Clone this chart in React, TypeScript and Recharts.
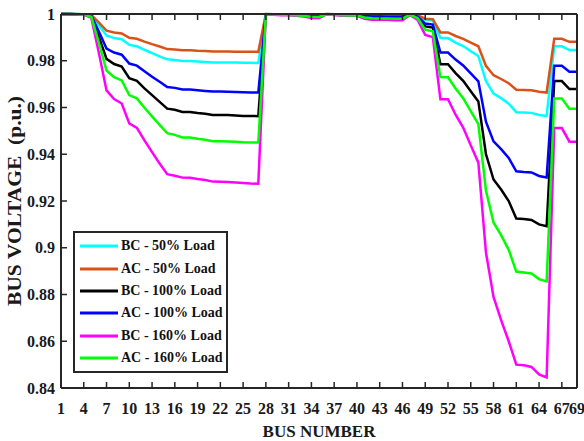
import { LineChart, Line, XAxis, YAxis, Legend } from "recharts";

const buses = [
  1, 2, 3, 4, 5, 6, 7, 8, 9, 10, 11, 12, 13, 14, 15, 16, 17, 18, 19, 20, 21, 22, 23,
  24, 25, 26, 27, 28, 29, 30, 31, 32, 33, 34, 35, 36, 37, 38, 39, 40, 41, 42, 43, 44,
  45, 46, 47, 48, 49, 50, 51, 52, 53, 54, 55, 56, 57, 58, 59, 60, 61, 62, 63, 64, 65,
  66, 67, 68, 69,
];

const bc50 = [
  1.0, 1.0, 1.0, 0.9999, 0.9995, 0.9952, 0.9908, 0.9897, 0.9892, 0.9868, 0.9862, 0.9847,
  0.9833, 0.9819, 0.9806, 0.9803, 0.9799, 0.9799, 0.9797, 0.9795, 0.9793, 0.9793, 0.9792,
  0.9792, 0.9791, 0.9791, 0.979, 1.0, 0.9999, 0.9999, 0.9999, 0.9998, 0.9997, 0.9995,
  0.9995, 1.0, 0.9999, 0.9998, 0.9998, 0.9998, 0.9994, 0.9993, 0.9993, 0.9993, 0.9992,
  0.9992, 0.9999, 0.9993, 0.9975, 0.9972, 0.9897, 0.9897, 0.9878, 0.9863, 0.9841, 0.982,
  0.9713, 0.966, 0.964, 0.9616, 0.958, 0.9579, 0.9577, 0.9568, 0.9564, 0.9862, 0.9862,
  0.9846, 0.9846,
];

const ac50 = [
  1.0, 1.0, 1.0, 0.9999, 0.9996, 0.9963, 0.9929, 0.9921, 0.9917, 0.9898, 0.9894, 0.9882,
  0.9871, 0.9861, 0.985, 0.9848, 0.9845, 0.9845, 0.9843, 0.9842, 0.984, 0.984, 0.984,
  0.9839, 0.9839, 0.9839, 0.9838, 1.0, 0.9999, 0.9999, 0.9999, 0.9999, 0.9998, 0.9996,
  0.9996, 1.0, 0.9999, 0.9998, 0.9998, 0.9998, 0.9996, 0.9995, 0.9994, 0.9994, 0.9994,
  0.9994, 0.9999, 0.9995, 0.998, 0.9978, 0.9921, 0.9921, 0.9906, 0.9894, 0.9878, 0.9862,
  0.9778, 0.9738, 0.9722, 0.9704, 0.9676, 0.9675, 0.9674, 0.9667, 0.9664, 0.9894, 0.9894,
  0.9881, 0.9881,
];

const bc100 = [
  1.0, 1.0, 0.9999, 0.9998, 0.999, 0.9901, 0.9808, 0.9786, 0.9775, 0.9725, 0.9714, 0.9682,
  0.9653, 0.9624, 0.9595, 0.959, 0.9581, 0.9581, 0.9576, 0.9573, 0.9568, 0.9568, 0.9568,
  0.9566, 0.9564, 0.9564, 0.9563, 0.9999, 0.9999, 0.9997, 0.9997, 0.9996, 0.9994, 0.999,
  0.999, 0.9999, 0.9998, 0.9996, 0.9995, 0.9995, 0.9988, 0.9986, 0.9985, 0.9985, 0.9984,
  0.9984, 0.9998, 0.9985, 0.9947, 0.9942, 0.9785, 0.9785, 0.9747, 0.9714, 0.967, 0.9626,
  0.9401, 0.9292, 0.9249, 0.92, 0.9125, 0.9123, 0.9119, 0.91, 0.9092, 0.9713, 0.9713,
  0.9679, 0.9679,
];

const ac100 = [
  1.0, 1.0, 0.9999, 0.9999, 0.9992, 0.9924, 0.9852, 0.9835, 0.9826, 0.9788, 0.9779, 0.9755,
  0.9732, 0.971, 0.9688, 0.9684, 0.9677, 0.9677, 0.9674, 0.9671, 0.9668, 0.9668, 0.9667,
  0.9666, 0.9665, 0.9664, 0.9664, 0.9999, 0.9999, 0.9998, 0.9998, 0.9997, 0.9995, 0.9992,
  0.9992, 0.9999, 0.9998, 0.9997, 0.9996, 0.9996, 0.9991, 0.9989, 0.9989, 0.9988, 0.9988,
  0.9988, 0.9998, 0.9989, 0.9959, 0.9955, 0.9835, 0.9835, 0.9805, 0.978, 0.9746, 0.9712,
  0.9539, 0.9455, 0.9422, 0.9384, 0.9327, 0.9324, 0.9322, 0.9307, 0.9301, 0.9779, 0.9779,
  0.9753, 0.9753,
];

const bc160 = [
  1.0, 0.9999, 0.9999, 0.9997, 0.9983, 0.9832, 0.9673, 0.9636, 0.9617, 0.9532, 0.9513,
  0.9459, 0.9409, 0.936, 0.9315, 0.9308, 0.93, 0.9299, 0.9294, 0.929, 0.9283, 0.9282,
  0.9281, 0.9279, 0.9277, 0.9275, 0.9274, 0.9999, 0.9997, 0.9995, 0.9995, 0.9993, 0.9989,
  0.9983, 0.9982, 0.9999, 0.9996, 0.9993, 0.9992, 0.9992, 0.998, 0.9975, 0.9975, 0.9975,
  0.9973, 0.9973, 0.9996, 0.9975, 0.991, 0.9901, 0.9635, 0.9635, 0.9569, 0.9514, 0.9438,
  0.9364, 0.898, 0.879, 0.869, 0.86, 0.85, 0.8497, 0.849, 0.8458, 0.8445, 0.9512, 0.9512,
  0.9454, 0.9454,
];

const ac160 = [
  1.0, 1.0, 0.9999, 0.9998, 0.9988, 0.9875, 0.9758, 0.973, 0.9716, 0.9653, 0.9639, 0.9599,
  0.9562, 0.9526, 0.949, 0.9483, 0.9472, 0.9472, 0.9466, 0.9462, 0.9456, 0.9456, 0.9455,
  0.9453, 0.9451, 0.945, 0.945, 0.9999, 0.9998, 0.9997, 0.9996, 0.9995, 0.9992, 0.9988,
  0.9987, 0.9999, 0.9997, 0.9995, 0.9994, 0.9994, 0.9985, 0.9982, 0.9981, 0.9981, 0.998,
  0.998, 0.9997, 0.9982, 0.9933, 0.9926, 0.973, 0.9729, 0.9681, 0.964, 0.9584, 0.9529,
  0.9245, 0.9108, 0.9054, 0.8991, 0.8898, 0.8894, 0.889, 0.8866, 0.8856, 0.9638, 0.9638,
  0.9595, 0.9595,
];

const xTicks = [1, 4, 7, 10, 13, 16, 19, 22, 25, 28, 31, 34, 37, 40, 43, 46, 49, 52, 55, 58, 61, 64, 67, 69];
const yTicks = [0.84, 0.86, 0.88, 0.9, 0.92, 0.94, 0.96, 0.98, 1];

const series = [
  { key: "bc50", name: "BC - 50% Load", color: "#00FFFF", values: bc50 },
  { key: "ac50", name: "AC - 50% Load", color: "#D95319", values: ac50 },
  { key: "bc100", name: "BC - 100% Load", color: "#000000", values: bc100 },
  { key: "ac100", name: "AC - 100% Load", color: "#0000FF", values: ac100 },
  { key: "bc160", name: "BC - 160% Load", color: "#FF00FF", values: bc160 },
  { key: "ac160", name: "AC - 160% Load", color: "#00FF00", values: ac160 },
];

const data = buses.map((bus, i) => {
  const row: Record<string, number> = { bus };
  series.forEach((s) => (row[s.key] = s.values[i]));
  return row;
});

const FONT = '"Liberation Serif", "Times New Roman", serif';
const INK = "#262626";
const TICK = 6;

const BottomTick = ({ x, y, payload }: any) => (
  <g>
    <line x1={x} y1={y} x2={x} y2={y - TICK} stroke={INK} strokeWidth={1.5} />
    <text x={x} y={y + 26} textAnchor="middle" fontFamily={FONT} fontWeight="bold" fontSize={16} fill="#1a1a1a">
      {payload.value}
    </text>
  </g>
);

const TopTick = ({ x, y }: any) => (
  <line x1={x} y1={y} x2={x} y2={y + TICK} stroke={INK} strokeWidth={1.5} />
);

const LeftTick = ({ x, y, payload }: any) => (
  <g>
    <line x1={x} y1={y} x2={x + TICK} y2={y} stroke={INK} strokeWidth={1.5} />
    <text x={x - 6} y={y + 5.5} textAnchor="end" fontFamily={FONT} fontWeight="bold" fontSize={16} fill="#1a1a1a">
      {String(+Number(payload.value).toFixed(2))}
    </text>
  </g>
);

const RightTick = ({ x, y }: any) => (
  <line x1={x} y1={y} x2={x - TICK} y2={y} stroke={INK} strokeWidth={1.5} />
);

const LegendBox = () => (
  <div
    style={{
      width: 151,
      height: 136,
      border: `2px solid ${INK}`,
      background: "#fff",
      boxSizing: "content-box",
      paddingTop: 2,
    }}
  >
    {series.map((s) => (
      <div key={s.key} style={{ display: "flex", alignItems: "center", height: 22.4 }}>
        <svg width={46} height={10} style={{ flex: "none" }}>
          <line x1={5} y1={5} x2={43} y2={5} stroke={s.color} strokeWidth={3} />
        </svg>
        <span style={{ fontFamily: FONT, fontWeight: "bold", fontSize: 14, color: "#111", whiteSpace: "nowrap" }}>
          {s.name}
        </span>
      </div>
    ))}
  </div>
);

export default function App() {
  return (
    <div style={{ position: "absolute", left: 0, top: 0, width: 584, height: 441, background: "#fff" }}>
      <LineChart width={584} height={441} data={data} margin={{ top: 0, right: 0, bottom: 0, left: 0 }}>
        <XAxis
          dataKey="bus"
          type="number"
          domain={[1, 69]}
          ticks={xTicks}
          interval={0}
          height={53}
          tickSize={0}
          tickMargin={0}
          tickLine={false}
          tick={<BottomTick />}
          axisLine={{ stroke: INK, strokeWidth: 2 }}
          label={{
            content: () => (
              <text x={319} y={437} textAnchor="middle" fontFamily={FONT} fontWeight="bold" fontSize={17} fill="#1a1a1a">
                BUS NUMBER
              </text>
            ),
          }}
        />
        <XAxis
          xAxisId="top"
          orientation="top"
          dataKey="bus"
          type="number"
          domain={[1, 69]}
          ticks={xTicks}
          interval={0}
          height={14}
          tickSize={0}
          tickMargin={0}
          tickLine={false}
          tick={<TopTick />}
          axisLine={{ stroke: INK, strokeWidth: 2 }}
        />
        <YAxis
          type="number"
          domain={[0.84, 1]}
          ticks={yTicks}
          interval={0}
          width={61}
          tickSize={0}
          tickMargin={0}
          tickLine={false}
          tick={<LeftTick />}
          axisLine={{ stroke: INK, strokeWidth: 2 }}
          label={{
            content: () => (
              <text
                transform="translate(21,201) rotate(-90)"
                textAnchor="middle"
                fontFamily={FONT}
                fontWeight="bold"
                fontSize={19}
                fill="#1a1a1a"
                textLength={210}
                lengthAdjust="spacingAndGlyphs"
                style={{ whiteSpace: "pre" }}
              >
                BUS VOLTAGE  (p.u.)
              </text>
            ),
          }}
        />
        <YAxis
          yAxisId="right"
          orientation="right"
          type="number"
          domain={[0.84, 1]}
          ticks={yTicks}
          interval={0}
          width={7}
          tickSize={0}
          tickMargin={0}
          tickLine={false}
          tick={<RightTick />}
          axisLine={{ stroke: INK, strokeWidth: 2 }}
        />
        <Legend
          layout="vertical"
          align="center"
          verticalAlign="middle"
          wrapperStyle={{ left: 73, top: 231, width: 155 }}
          content={() => <LegendBox />}
        />
        {series.map((s) => (
          <Line
            key={s.key}
            dataKey={s.key}
            name={s.name}
            type="linear"
            stroke={s.color}
            strokeWidth={2.5}
            dot={false}
            isAnimationActive={false}
          />
        ))}
      </LineChart>
    </div>
  );
}
